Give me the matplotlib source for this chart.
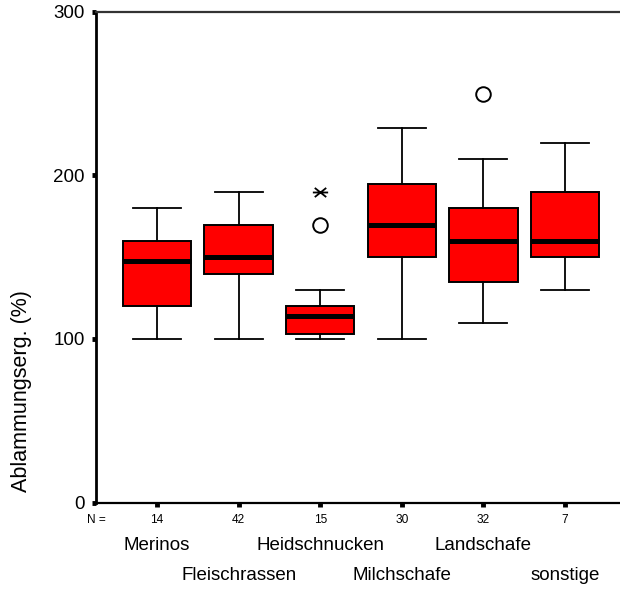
import numpy as np
import matplotlib
matplotlib.use("Agg")
import matplotlib.pyplot as plt
from matplotlib.path import Path

plt.rcParams['font.family'] = ['Liberation Sans', 'DejaVu Sans']

# Sheep breed groups and their box statistics (Ablammungsergebnis in %)
breeds = ['Merinos', 'Fleischrassen', 'Heidschnucken', 'Milchschafe', 'Landschafe', 'sonstige']
n_obs = [14, 42, 15, 30, 32, 7]
whisker_low = [100, 100, 100, 100, 110, 130]
q1 = [120, 140, 103, 150, 135, 150]
medians = [148, 150, 114, 170, 160, 160]
q3 = [160, 170, 120, 195, 180, 190]
whisker_high = [180, 190, 130, 229, 210, 220]
outliers = [[], [], [170], [], [250], []]   # drawn as circles
extremes = [[], [], [190], [], [], []]     # drawn as stars

stats = []
for i in range(len(breeds)):
    stats.append(dict(med=medians[i], q1=q1[i], q3=q3[i],
                      whislo=whisker_low[i], whishi=whisker_high[i],
                      fliers=outliers[i]))

pos = np.arange(1, len(breeds) + 1)

fig = plt.figure(figsize=(6.2, 5.9), dpi=100)
# the axes run slightly past the right edge of the figure
ax = fig.add_axes([96 / 620, 87.5 / 590, 530 / 620, 490.5 / 590])

ax.bxp(stats, positions=pos, widths=0.84, capwidths=0.59, patch_artist=True,
       boxprops=dict(facecolor='#ff0000', edgecolor='black', linewidth=1.4),
       medianprops=dict(color='black', linewidth=3.6, solid_capstyle='butt'),
       whiskerprops=dict(color='black', linewidth=1.3),
       capprops=dict(color='black', linewidth=1.3),
       flierprops=dict(marker='o', markersize=10.5, markerfacecolor='none',
                       markeredgecolor='black', markeredgewidth=1.4))

# asterisk-like marker for extreme values
star = Path([(-1, 0), (1, 0), (-0.75, -0.6), (0.75, 0.6), (-0.75, 0.6), (0.75, -0.6)],
            [Path.MOVETO, Path.LINETO, Path.MOVETO, Path.LINETO, Path.MOVETO, Path.LINETO])
for p, vals in zip(pos, extremes):
    if vals:
        ax.plot([p] * len(vals), vals, linestyle='none', marker=star, markersize=11,
                markerfacecolor='none', markeredgecolor='black', markeredgewidth=1.3)

ax.set_xlim(0.25, 6.75)
ax.set_ylim(0, 300)
ax.set_yticks([0, 100, 200, 300])
ax.set_xticks(pos)
ax.set_xticklabels([])

ax.spines['right'].set_visible(False)
ax.spines['left'].set_linewidth(2)
ax.spines['bottom'].set_linewidth(1.6)
ax.spines['top'].set_linewidth(1.6)
ax.spines['top'].set_color('#333333')
ax.tick_params(axis='y', direction='out', length=3, width=3.5, pad=5, labelsize=13.5)
ax.tick_params(axis='x', direction='out', length=3, width=3.5)

# group sizes below the axis
ax.annotate('N =', xy=(0.25, 0), xycoords=('data', 'axes fraction'),
            xytext=(0, -12.6), textcoords='offset points',
            ha='center', va='center', fontsize=8.6)
for p, n in zip(pos, n_obs):
    ax.annotate(str(n), xy=(p, 0), xycoords=('data', 'axes fraction'),
                xytext=(0, -12.6), textcoords='offset points',
                ha='center', va='center', fontsize=8.6)

# breed names in two staggered rows
for i, (p, name) in enumerate(zip(pos, breeds)):
    off = -31.3 if i % 2 == 0 else -52.2
    ax.annotate(name, xy=(p, 0), xycoords=('data', 'axes fraction'),
                xytext=(0, off), textcoords='offset points',
                ha='center', va='center', fontsize=13.5)

fig.text(22 / 620, 1 - 391 / 590, 'Ablammungserg. (%)', rotation=90,
         ha='center', va='center', fontsize=15.5)

fig.savefig('out.png', dpi=100)
